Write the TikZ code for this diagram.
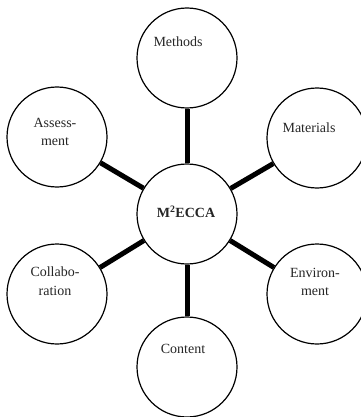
\documentclass[tikz,border=0pt]{standalone}
\usepackage{fontspec}
\setmainfont{Liberation Serif}
\begin{document}
\begin{tikzpicture}[x=1pt,y=-1pt,
  bubble/.style={circle,draw=black,line width=1.2pt,minimum size=100pt,inner sep=0pt,fill=white},
  lbl/.style={font=\fontsize{14}{18.5}\selectfont,align=center,text=black!85,inner sep=0pt},
  conn/.style={line width=5pt,black}]
\useasboundingbox (0,0) rectangle (360,417);
\node[bubble] (hub) at (187,214) {};
\node[bubble] (methods) at (187,58) {};
\node[bubble] (materials) at (317,138) {};
\node[bubble] (environment) at (317,294) {};
\node[bubble] (content) at (187,367) {};
\node[bubble] (collaboration) at (57,294) {};
\node[bubble] (assessment) at (57,137) {};
\draw[conn] (hub) -- (methods);
\draw[conn] (hub) -- (materials);
\draw[conn] (hub) -- (environment);
\draw[conn] (hub) -- (content);
\draw[conn] (hub) -- (collaboration);
\draw[conn] (hub) -- (assessment);
\node[lbl,font=\fontsize{14}{17}\selectfont\bfseries] (hubt) at (186,212) {M\textsuperscript{2}ECCA};
\node[lbl] (methodst) at (178,42) {Methods};
\node[lbl] (materialst) at (309,128) {Materials};
\node[lbl] (environmentt) at (315,282) {Environ-\\ment};
\node[lbl] (contentt) at (183,349) {Content};
\node[lbl] (collaborationt) at (55,281) {Collabo-\\ration};
\node[lbl] (assessmentt) at (55,132) {Assess-\\ment};
\end{tikzpicture}
\end{document}
